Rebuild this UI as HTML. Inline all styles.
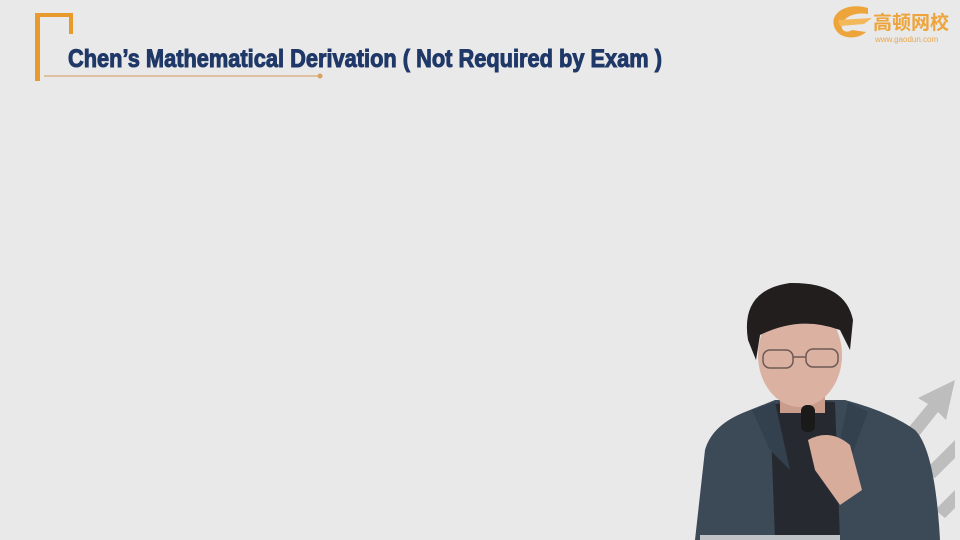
<!DOCTYPE html>
<html><head><meta charset="utf-8"><style>
html,body{margin:0;padding:0;background:#e9e9e9;}
svg{display:block}
</style></head><body>
<svg width="960" height="540" viewBox="0 0 960 540">
<rect width="960" height="540" fill="#e9e9e9"/>
<g fill="#e89a2c">
<rect x="35" y="13" width="5" height="68"/>
<rect x="35" y="13" width="38" height="4"/>
<rect x="69" y="13" width="4" height="21"/>
</g>
<line x1="44" y1="76" x2="320" y2="76" stroke="#d9b487" stroke-width="1.5"/>
<circle cx="320" cy="76" r="2.5" fill="#d9a060"/>
<text x="68" y="67" font-family="'Liberation Sans Narrow','Liberation Sans',sans-serif" font-weight="bold" font-size="25" fill="#1f3868" stroke="#1f3868" stroke-width="1" textLength="594" lengthAdjust="spacingAndGlyphs">Chen’s Mathematical Derivation ( Not Required by Exam )</text>
<g>
<path d="M868,8 C848,2 830,12 834,26 C838,40 858,40 866,32 L852,30 C846,34 840,30 842,24 C845,16 856,12 868,14 Z" fill="#eda43a"/>
<path d="M838,20 L872,18 L864,24 L840,26 Z" fill="#f3b85a"/>
<text x="873" y="29" font-family="'Liberation Sans','Noto Sans CJK SC',sans-serif" font-size="19" font-weight="bold" fill="#eda43a">高顿网校</text>
<text x="875" y="42" font-family="'Liberation Sans',sans-serif" font-size="8" fill="#e8a850">www.gaodun.com</text>
</g>
<g fill="#bdbdbd">
<path d="M955,380 L918,398 L928,404 L890,450 L900,460 L938,412 L946,420 Z"/>
<path d="M955,440 L925,470 L935,478 L955,458 Z"/>
<path d="M955,490 L935,510 L945,518 L955,508 Z"/>
</g>
<g>
<path d="M695,540 L705,450 Q712,425 745,412 L775,400 L845,400 Q890,412 915,430 Q935,450 940,540 Z" fill="#3c4a58"/>
<path d="M770,405 L800,400 L835,402 L840,540 L775,540 Z" fill="#262a30"/>
<path d="M752,410 L775,402 L790,470 L770,450 Z" fill="#33404d"/>
<path d="M848,402 L868,412 L850,460 L840,440 Z" fill="#33404d"/>
<rect x="780" y="385" width="45" height="28" fill="#c99c8c"/>
<ellipse cx="800" cy="355" rx="42" ry="52" fill="#dbb1a2"/>
<path d="M748,340 Q740,290 790,283 Q845,282 853,320 L850,350 L840,330 Q800,315 760,335 L756,360 Z" fill="#231e1e"/>
<g fill="none" stroke="#6d5a55" stroke-width="1.5">
<rect x="763" y="350" width="30" height="18" rx="7"/>
<rect x="806" y="349" width="32" height="18" rx="7"/>
<line x1="793" y1="357" x2="806" y2="357"/>
</g>
<path d="M808,440 Q830,428 850,445 L862,490 L840,505 L815,470 Z" fill="#d8ac9a"/>
<rect x="801" y="405" width="14" height="27" rx="6" fill="#1a1a1a"/>
<rect x="700" y="535" width="140" height="5" fill="#bfc3c8"/>
</g>
</svg>
</body></html>
